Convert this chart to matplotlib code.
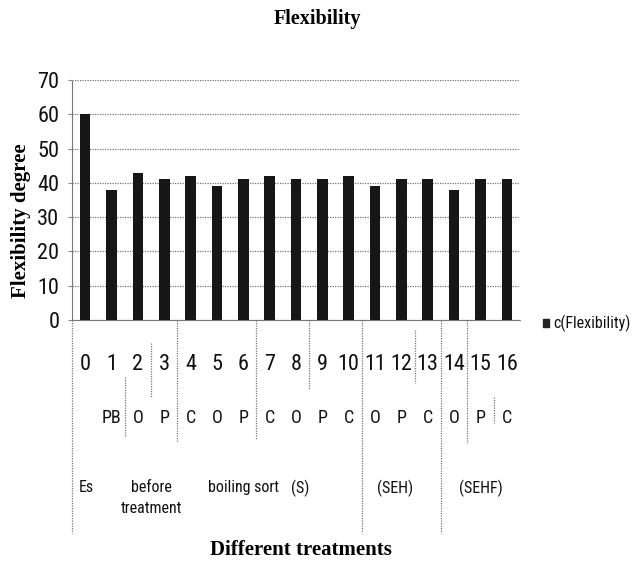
import matplotlib
matplotlib.use("Agg")
import matplotlib.pyplot as plt
from matplotlib import font_manager
from matplotlib.transforms import blended_transform_factory

# Data
treatments = ["0", "1", "2", "3", "4", "5", "6", "7", "8", "9", "10",
              "11", "12", "13", "14", "15", "16"]
flexibility = [60, 38, 43, 41, 42, 39, 41, 42, 41, 41, 42, 39, 41, 41, 38, 41, 41]
sub_codes = ["", "PB", "O", "P", "C", "O", "P", "C", "O", "P", "C",
             "O", "P", "C", "O", "P", "C"]
group_names = ["Es", "before\ntreatment", "boiling sort", "(S)", "(SEH)", "(SEHF)"]
group_pos = [0.05, 2.5, 6.0, 8.15, 11.75, 15.0]
series_name = "c(Flexibility)"

installed = {f.name for f in font_manager.fontManager.ttflist}
narrow = "DejaVu Sans"
for cand in ["Liberation Sans Narrow", "Arial Narrow", "DejaVu Sans Condensed",
             "Roboto Condensed", "Open Sans Condensed", "Liberation Sans"]:
    if cand in installed:
        narrow = cand
        break
serif = "Liberation Serif" if "Liberation Serif" in installed else "DejaVu Serif"

W, H = 642, 564
fig = plt.figure(figsize=(W / 100, H / 100), dpi=100)
fig.patch.set_facecolor("white")

left, right, top, bottom = 72, 520, 80, 320
ax = fig.add_axes([left / W, 1 - bottom / H, (right - left) / W, (bottom - top) / H])

x = list(range(len(treatments)))
ax.bar(x, flexibility, width=0.4, color="#161616", zorder=3, label=series_name)

ax.set_xlim(-0.5, len(treatments) - 0.5)
ax.set_ylim(0, 70)
ax.set_yticks(range(0, 71, 10))
ax.set_yticklabels([str(v) for v in range(0, 71, 10)], fontfamily=narrow,
                   fontsize=16, color="#111")
ax.tick_params(axis="y", length=3, color="#888", pad=6)
ax.set_xticks([])
ax.grid(axis="y", linestyle=(0, (1, 1)), color="#777", linewidth=0.9, zorder=0)
for s in ["top", "right"]:
    ax.spines[s].set_visible(False)
ax.spines["left"].set_linestyle((0, (1, 1)))
ax.spines["left"].set_color("#777")
ax.spines["bottom"].set_linestyle((0, (1, 1)))
ax.spines["bottom"].set_color("#777")

trans = blended_transform_factory(ax.transData, fig.transFigure)

def fy(py):
    return 1 - py / H

# Multi-level category labels
for i, lab in enumerate(treatments):
    ax.text(i, fy(365), lab, transform=trans, ha="center", va="center",
            fontfamily=narrow, fontsize=16, color="#111")
for i, lab in enumerate(sub_codes):
    if lab:
        ax.text(i, fy(418), lab, transform=trans, ha="center", va="center",
                fontfamily=narrow, fontsize=13, color="#111")
for gx, gname in zip(group_pos, group_names):
    ax.text(gx, fy(480), gname, transform=trans, ha="center", va="top",
            fontfamily=narrow, fontsize=11.5, color="#111", linespacing=1.5)

# Category separators
separators = [(-0.5, 320, 533), (1.5, 377, 437), (2.5, 343, 397), (3.5, 320, 442),
              (6.5, 320, 440), (8.5, 320, 390), (10.5, 320, 533), (12.5, 330, 383),
              (13.5, 320, 533), (14.5, 320, 443), (15.5, 397, 423)]
for sx, y0, y1 in separators:
    ax.plot([sx, sx], [fy(y0), fy(y1)], transform=trans, clip_on=False,
            color="#777", linestyle=(0, (1, 1)), linewidth=0.9)

# Legend
fig.patches.append(plt.Rectangle((543 / W, fy(327)), 6 / W, 8 / H,
                                 transform=fig.transFigure, color="#222"))
fig.text(553 / W, fy(323), series_name, ha="left", va="center",
         fontfamily=narrow, fontsize=11.5, color="#111")

# Titles
fig.text(317 / W, fy(19), "Flexibility", ha="center", va="center",
         fontfamily=serif, fontweight="bold", fontsize=14.5)
fig.text(301 / W, fy(550), "Different treatments", ha="center", va="center",
         fontfamily=serif, fontweight="bold", fontsize=15)
fig.text(21 / W, fy(221), "Flexibility degree", ha="center", va="center",
         rotation=90, fontfamily=serif, fontweight="bold", fontsize=15)

fig.savefig("out.png", dpi=100, facecolor="white")
